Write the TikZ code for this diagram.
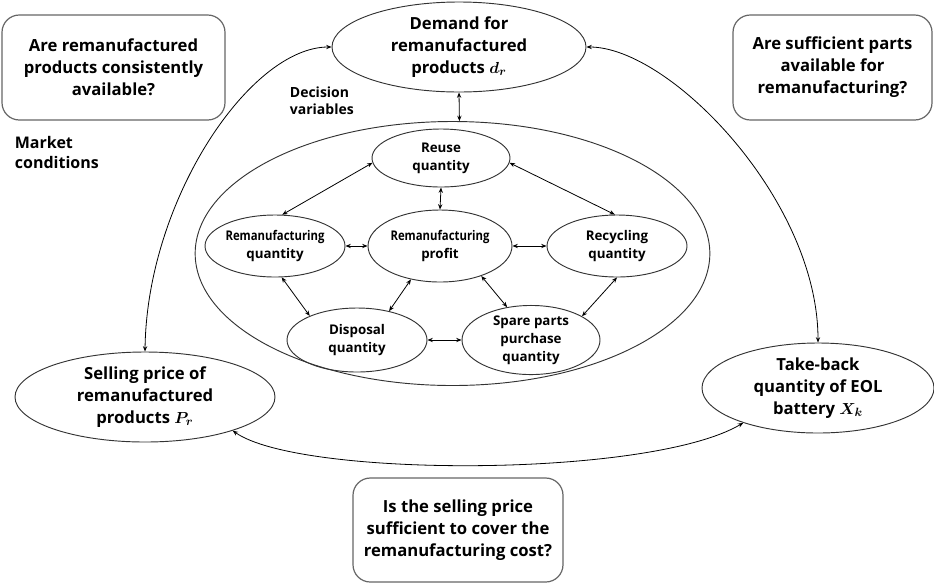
\documentclass[tikz,border=0pt]{standalone}
\usepackage{fontspec}
\setmainfont{Open Sans}
\usepackage{amsmath}
\usetikzlibrary{shapes.geometric,arrows.meta}
\newcommand{\bigtxt}{\fontsize{12.5}{16.5}\selectfont\bfseries\boldmath}
\newcommand{\smalltxt}{\fontsize{10}{13.5}\selectfont\bfseries}
\newcommand{\midtxt}{\fontsize{10.5}{13}\selectfont\bfseries}
\begin{document}
\begin{tikzpicture}[x=0.75pt,y=-0.75pt,
  line width=0.7pt,
  >={Stealth[length=4pt,width=3.2pt]},
  qbox/.style={draw=black!60, rounded corners=13pt, align=center, font=\bigtxt, inner sep=0pt, line width=0.9pt},
  oval/.style={ellipse, draw=black!80, align=center, font=\bigtxt, inner sep=0pt},
  ioval/.style={ellipse, draw=black!80, align=center, font=\smalltxt, inner sep=0pt},
  link/.style={<->, line width=0.6pt}]
\useasboundingbox (0,0) rectangle (934,583);
% question boxes
\node[qbox, minimum width=167.25pt, minimum height=78.75pt] (q1) at (113.5,67.5) {Are remanufactured\\products consistently\\available?};
\node[qbox, minimum width=149.25pt, minimum height=78.75pt] (q2) at (832.5,67.5) {Are sufficient parts\\available for\\remanufacturing?};
\node[qbox, minimum width=157.5pt, minimum height=78pt] (q3) at (458,530) {Is the selling price\\sufficient to cover the\\remanufacturing cost?};
\node[align=left, font=\midtxt\fontsize{12}{15}\selectfont, anchor=west] (mc) at (10,152) {Market\\conditions};
\node[align=left, font=\midtxt, anchor=west] (dvl) at (285,101) {Decision\\variables};
% outer ovals
\node[oval, minimum width=190.5pt, minimum height=67.5pt] (demand) at (459,47) {Demand for\\remanufactured\\products $d_r$};
\node[oval, minimum width=195pt, minimum height=67.5pt] (sell) at (145,397) {Selling price of\\remanufactured\\products $P_r$};
\node[oval, minimum width=174pt, minimum height=67.5pt] (take) at (818,388) {Take-back\\quantity of EOL\\battery $X_k$};
% decision variable container
\node[ellipse, draw=black!80, minimum width=386pt, minimum height=198pt] (dv) at (452.5,253.5) {};
% inner ovals
\node[ioval, minimum width=103.5pt, minimum height=43.5pt] (reuse) at (441,158) {Reuse\\quantity};
\node[ioval, minimum width=105pt, minimum height=46.5pt] (remq) at (275,246) {\scalebox{0.85}[1]{Remanufacturing}\\quantity};
\node[ioval, minimum width=108pt, minimum height=54pt] (profit) at (440,246) {\scalebox{0.85}[1]{Remanufacturing}\\profit};
\node[ioval, minimum width=105pt, minimum height=46.5pt] (recyc) at (617,246) {Recycling\\quantity};
\node[ioval, minimum width=105pt, minimum height=48pt] (disp) at (357,340) {Disposal\\quantity};
\node[ioval, minimum width=103.5pt, minimum height=46.5pt] (spare) at (531,340) {Spare parts\\purchase\\quantity};
% outer connectors
\draw[link] (demand.west) .. controls (250,47) and (147,200) .. (sell.north);
\draw[link] (demand.east) .. controls (670,47) and (818,200) .. (take.north);
\draw[link] (sell.-21) .. controls (300,478) and (650,478) .. (take.205);
\draw[link] (demand.south) -- (dv.87);
% inner connectors
\draw[link] (reuse.184) -- (remq.77);
\draw[link] (reuse.356) -- (recyc.94);
\draw[link] (reuse.south) -- (profit.north);
\draw[link] (remq.east) -- (profit.west);
\draw[link] (profit.east) -- (recyc.west);
\draw[link] (remq.282) -- (disp.153);
\draw[link] (profit.229) -- (disp.42);
\draw[link] (profit.324) -- (spare.126);
\draw[link] (recyc.270) -- (spare.25);
\draw[link] (disp.east) -- (spare.west);
\end{tikzpicture}
\end{document}
